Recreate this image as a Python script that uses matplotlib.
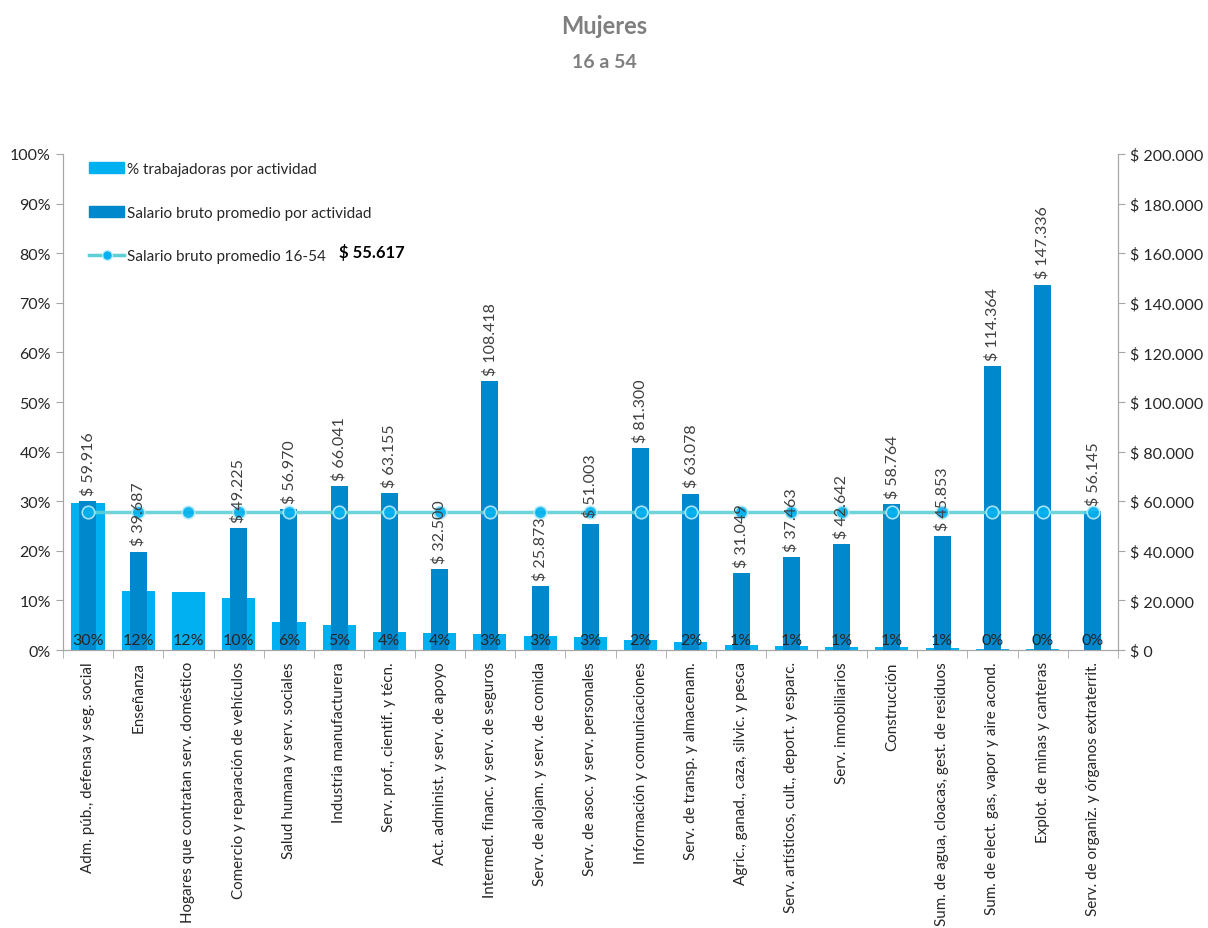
import numpy as np
import matplotlib
matplotlib.use("Agg")
import matplotlib.pyplot as plt
from matplotlib.lines import Line2D
from matplotlib.patches import Patch

plt.rcParams["font.family"] = ["Lato", "DejaVu Sans"]

# ─── Data ────────────────────────────────────────────────────────────────────
categories = [
    "Adm. púb., defensa y seg. social",
    "Enseñanza",
    "Hogares que contratan serv. doméstico",
    "Comercio y reparación de vehículos",
    "Salud humana y serv. sociales",
    "Industria manufacturera",
    "Serv. prof., cientif. y técn.",
    "Act. administ. y serv. de apoyo",
    "Intermed. financ. y serv. de seguros",
    "Serv. de alojam. y serv. de comida",
    "Serv. de asoc. y serv. personales",
    "Información y comunicaciones",
    "Serv. de transp. y almacenam.",
    "Agric., ganad., caza, silvic. y pesca",
    "Serv. artísticos, cult., deport. y esparc.",
    "Serv. inmobiliarios",
    "Construcción",
    "Sum. de agua, cloacas, gest. de residuos",
    "Sum. de elect. gas, vapor y aire acond.",
    "Explot. de minas y canteras",
    "Serv. de organiz. y órganos extraterrit.",
]
pct_workers = [29.7, 11.9, 11.6, 10.5, 5.6, 5.1, 3.7, 3.5, 3.2, 2.9, 2.6,
               2.1, 1.6, 1.1, 0.9, 0.7, 0.6, 0.5, 0.2, 0.2, 0.05]
pct_labels = ["30%", "12%", "12%", "10%", "6%", "5%", "4%", "4%", "3%", "3%", "3%",
              "2%", "2%", "1%", "1%", "1%", "1%", "1%", "0%", "0%", "0%"]
salary = [59916, 39687, None, 49225, 56970, 66041, 63155, 32500, 108418, 25873,
          51003, 81300, 63078, 31049, 37463, 42642, 58764, 45853, 114364, 147336, 56145]
avg_salary = 55617
# ─────────────────────────────────────────────────────────────────────────────

LIGHT = "#00b0f0"
DARK = "#0088cc"
LINE = "#5fcfd6"
GRAY_TXT = "#404040"


def money(v):
    return "$ " + f"{v:,.0f}".replace(",", ".")


fig = plt.figure(figsize=(12.08, 9.29), dpi=100)
ax = fig.add_axes([0.052, 0.2992, 0.8735, 0.534])
ax2 = ax.twinx()

x = np.arange(len(categories))
ax.bar(x, pct_workers, width=0.66, color=LIGHT, zorder=1)
sal_vals = [s if s is not None else 0 for s in salary]
ax2.bar(x, sal_vals, width=0.34, color=DARK, zorder=2)
ax2.plot(x, [avg_salary] * len(x), color=LINE, lw=2.5, zorder=3, alpha=0.9,
         marker="o", markersize=9, markerfacecolor=LIGHT, markeredgecolor="#b8ecf6",
         markeredgewidth=1.2)

for xi, s in zip(x, salary):
    if s is None:
        continue
    ax2.text(xi, s + 2500, money(s), rotation=90, ha="center", va="bottom",
             fontsize=11.5, color=GRAY_TXT, zorder=4)

for xi, lab in zip(x, pct_labels):
    ax2.text(xi, 1200, lab, ha="center", va="bottom", fontsize=11.5, color="#262626", zorder=5)

ax.set_xlim(-0.5, len(categories) - 0.5)
ax.set_ylim(0, 100)
ax2.set_ylim(0, 200000)
ax.set_yticks(np.arange(0, 101, 10))
ax.set_yticklabels([f"{v}%" for v in range(0, 101, 10)], fontsize=11.5, color="#262626")
ax2.set_yticks(np.arange(0, 200001, 20000))
ax2.set_yticklabels([money(v) if v else "$ 0" for v in range(0, 200001, 20000)],
                    fontsize=11.5, color="#262626")

ax.set_xticks(x)
ax.set_xticklabels(categories, rotation=90, fontsize=10.9, color="#262626")
ax.tick_params(axis="x", length=0, pad=8)
ax.set_xticks(np.arange(-0.5, len(categories), 1), minor=True)
ax.tick_params(axis="x", which="minor", length=6, color="#a6a6a6")
ax.tick_params(axis="y", length=5, color="#a6a6a6")
ax2.tick_params(axis="y", length=5, color="#a6a6a6")

for a in (ax, ax2):
    a.spines["top"].set_visible(False)
    for s in ("left", "right", "bottom"):
        a.spines[s].set_color("#a6a6a6")

handles = [
    Patch(color=LIGHT, label="% trabajadoras por actividad"),
    Patch(color=DARK, label="Salario bruto promedio por actividad"),
    Line2D([0], [0], color=LINE, lw=2.5, marker="o", markersize=7,
           markerfacecolor=LIGHT, markeredgecolor="#b8ecf6",
           label="Salario bruto promedio 16-54"),
]
leg = ax2.legend(handles=handles, loc="upper left", bbox_to_anchor=(0.012, 1.012),
                 frameon=False, fontsize=11, labelspacing=1.95, handlelength=2.3,
                 handletextpad=0.2)
for t in leg.get_texts():
    t.set_color("#262626")
fig.text(0.281, 0.728, money(avg_salary), fontsize=12, fontweight="bold", color="black",
         va="center")

fig.text(0.5, 0.972, "Mujeres", ha="center", va="center", fontsize=17,
         fontweight="bold", color="#7f7f7f")
fig.text(0.5, 0.933, "16 a 54", ha="center", va="center", fontsize=14,
         fontweight="bold", color="#7f7f7f")

fig.savefig("out.png", dpi=100)
